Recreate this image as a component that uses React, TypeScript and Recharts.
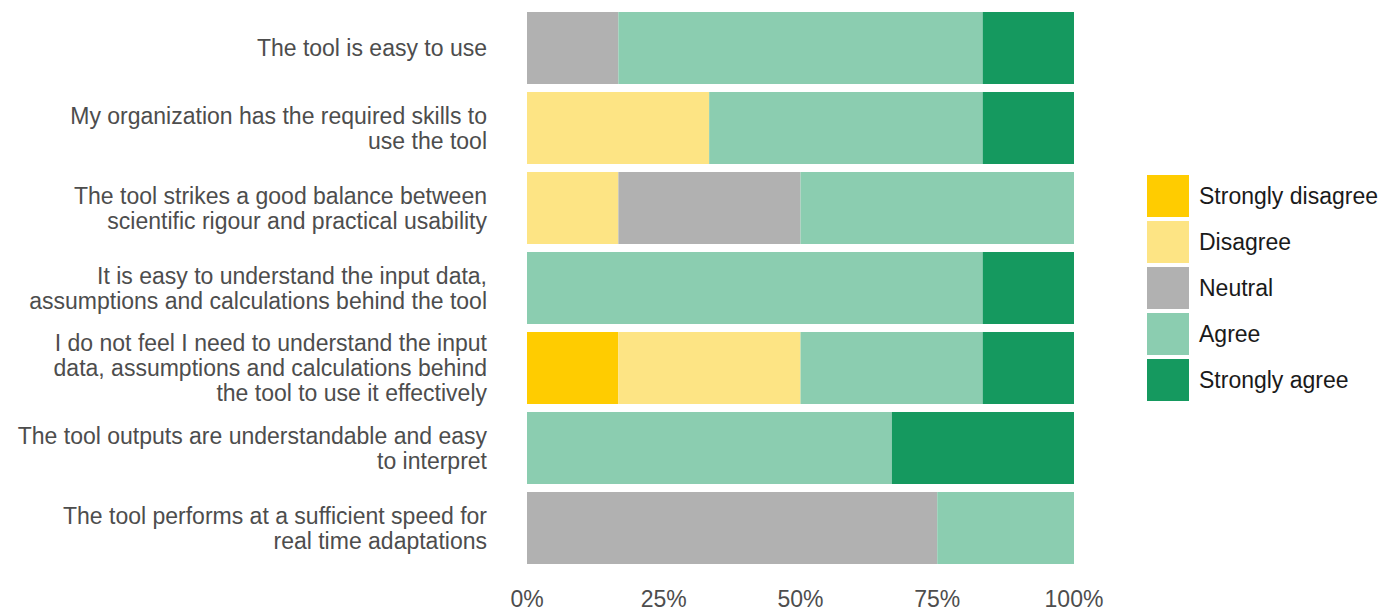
import { BarChart, Bar, XAxis, YAxis } from "recharts";

const categories = [
  ["The tool is easy to use"],
  ["My organization has the required skills to", "use the tool"],
  ["The tool strikes a good balance between", "scientific rigour and practical usability"],
  ["It is easy to understand the input data,", "assumptions and calculations behind the tool"],
  [
    "I do not feel I need to understand the input",
    "data, assumptions and calculations behind",
    "the tool to use it effectively",
  ],
  ["The tool outputs are understandable and easy", "to interpret"],
  ["The tool performs at a sufficient speed for", "real time adaptations"],
];

const stronglyDisagree = [0, 0, 0, 0, 16.7, 0, 0];
const disagree = [0, 33.3, 16.7, 0, 33.3, 0, 0];
const neutral = [16.7, 0, 33.3, 0, 0, 0, 75];
const agree = [66.6, 50, 50, 83.3, 33.3, 66.7, 25];
const stronglyAgree = [16.7, 16.7, 0, 16.7, 16.7, 33.3, 0];

const xTicks = [0, 25, 50, 75, 100];

const SERIES = [
  { key: "sd", name: "Strongly disagree", color: "#FFCC00", values: stronglyDisagree },
  { key: "d", name: "Disagree", color: "#FDE484", values: disagree },
  { key: "n", name: "Neutral", color: "#B1B1B1", values: neutral },
  { key: "a", name: "Agree", color: "#8BCDB0", values: agree },
  { key: "sa", name: "Strongly agree", color: "#15995F", values: stronglyAgree },
];

const data = categories.map((lines, i) => {
  const row: Record<string, string | number> = { label: lines.join("\n") };
  SERIES.forEach((s) => {
    row[s.key] = s.values[i];
  });
  return row;
});

const FONT = "'Liberation Sans', Arial, sans-serif";
const FS = 23;

function CategoryTick({ x, y, payload }: any) {
  const lines = String(payload.value).split("\n");
  const lineHeight = 25;
  const first = y - ((lines.length - 1) * lineHeight) / 2 + 8;
  return (
    <text
      x={x}
      y={first}
      textAnchor="end"
      fill="#4D4D4D"
      fontSize={FS}
      fontFamily={FONT}
    >
      {lines.map((line, i) => (
        <tspan key={i} x={x} y={first + i * lineHeight}>
          {line}
        </tspan>
      ))}
    </text>
  );
}

export default function App() {
  return (
    <div
      style={{
        position: "absolute",
        left: 0,
        top: 0,
        width: 1382,
        height: 610,
        fontFamily: FONT,
        background: "#fff",
      }}
    >
      <BarChart
        width={1382}
        height={610}
        data={data}
        layout="vertical"
        barCategoryGap={4}
        margin={{ top: 8, right: 308, bottom: 0, left: 0 }}
      >
        <XAxis
          type="number"
          domain={[0, 100]}
          ticks={xTicks}
          tickFormatter={(v) => `${v}%`}
          axisLine={false}
          tickLine={false}
          tickSize={0}
          tickMargin={23}
          height={42}
          tick={{ fill: "#4D4D4D", fontSize: FS, fontFamily: FONT }}
        />
        <YAxis
          type="category"
          dataKey="label"
          width={527}
          axisLine={false}
          tickLine={false}
          tickSize={0}
          tickMargin={40}
          interval={0}
          tick={<CategoryTick />}
        />
        {SERIES.map((s) => (
          <Bar
            key={s.key}
            dataKey={s.key}
            name={s.name}
            stackId="resp"
            fill={s.color}
            isAnimationActive={false}
          />
        ))}
      </BarChart>
      <div style={{ position: "absolute", left: 1147, top: 175 }}>
        {SERIES.map((s) => (
          <div
            key={s.key}
            style={{
              display: "flex",
              alignItems: "center",
              height: 42,
              marginBottom: 4,
            }}
          >
            <div style={{ width: 42, height: 42, background: s.color }} />
            <span
              style={{
                marginLeft: 10,
                fontSize: FS,
                color: "#1A1A1A",
                whiteSpace: "nowrap",
              }}
            >
              {s.name}
            </span>
          </div>
        ))}
      </div>
    </div>
  );
}
